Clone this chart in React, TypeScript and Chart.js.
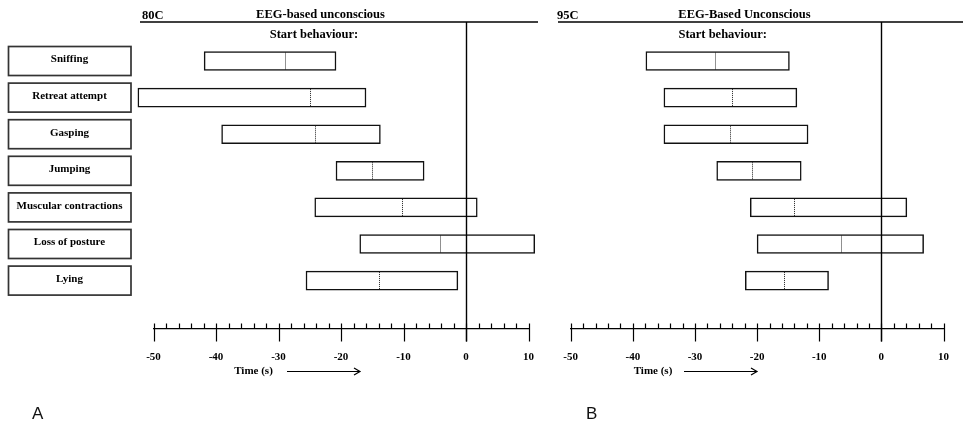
import React, { useEffect, useRef } from "react";
import { Chart, registerables } from "chart.js";

Chart.register(...registerables);

// ---------- data ----------
const behaviours = [
  "Sniffing",
  "Retreat attempt",
  "Gasping",
  "Jumping",
  "Muscular contractions",
  "Loss of posture",
  "Lying",
];

// Panel A (80C): start / end of each behaviour range and its median (s)
const startsA = [-41.9, -52.5, -39.1, -20.8, -24.2, -17.0, -25.6];
const endsA = [-20.8, -16.0, -13.7, -6.7, 1.8, 11.0, -1.3];
const mediansA = [-29.0, -24.9, -24.2, -15.0, -10.3, -4.1, -14.0];

// Panel B (95C)
const startsB = [-37.9, -35.0, -35.0, -26.5, -21.1, -20.0, -21.9];
const endsB = [-14.8, -13.6, -11.8, -12.9, 4.1, 6.8, -8.5];
const mediansB = [-26.8, -24.1, -24.3, -20.9, -14.0, -6.5, -15.7];

const xMin = -50;
const xMax = 10;
const minorStep = 2;
const majorStep = 10;

type PanelCfg = {
  left: number;
  width: number;
  starts: number[];
  ends: number[];
  medians: number[];
  tag: string;
  title: string;
  subtitle: string;
  letter: string;
  padLeft: number;
  padRight: number;
  tagX: number;
  titleX: number;
  subX: number;
  lineX0: number;
  lineX1: number;
  timeX: number;
  arrowX0: number;
  arrowX1: number;
  letterX: number;
  showBoxes: boolean;
};

const SERIF = "'Liberation Serif', 'Times New Roman', serif";

function makeDecor(cfg: PanelCfg) {
  return {
    id: "decor",
    afterDraw(chart: any) {
      const ctx: CanvasRenderingContext2D = chart.ctx;
      const xs = chart.scales.x;
      const ys = chart.scales.y;
      const area = chart.chartArea;
      const axisY = area.bottom;
      ctx.save();

      // top rule
      ctx.strokeStyle = "#000";
      ctx.lineWidth = 1.3;
      ctx.beginPath();
      ctx.moveTo(cfg.lineX0, 22);
      ctx.lineTo(cfg.lineX1, 22);
      ctx.stroke();

      // titles
      ctx.fillStyle = "#000";
      ctx.font = `bold 12.5px ${SERIF}`;
      ctx.textBaseline = "middle";
      ctx.textAlign = "left";
      ctx.fillText(cfg.tag, cfg.tagX, 15.5);
      ctx.textAlign = "center";
      ctx.fillText(cfg.title, cfg.titleX, 14.5);
      ctx.fillText(cfg.subtitle, cfg.subX, 35);

      // behaviour boxes
      if (cfg.showBoxes) {
        behaviours.forEach((name, i) => {
          const cy = ys.getPixelForValue(i);
          ctx.fillStyle = "#fff";
          ctx.strokeStyle = "#333";
          ctx.lineWidth = 1.7;
          ctx.fillRect(8.5, cy - 14.5, 122.5, 29);
          ctx.strokeRect(8.5, cy - 14.5, 122.5, 29);
          ctx.fillStyle = "#000";
          ctx.font = `bold 11px ${SERIF}`;
          ctx.textAlign = "center";
          ctx.textBaseline = "middle";
          ctx.fillText(name, 69.5, cy - 1.5);
        });
      }

      // medians (dotted)
      ctx.strokeStyle = "#222";
      ctx.lineWidth = 1;
      ctx.setLineDash([1, 1]);
      cfg.medians.forEach((m, i) => {
        const px = Math.round(xs.getPixelForValue(m)) + 0.5;
        const cy = ys.getPixelForValue(i);
        ctx.beginPath();
        ctx.moveTo(px, cy - 8.5);
        ctx.lineTo(px, cy + 8.5);
        ctx.stroke();
      });
      ctx.setLineDash([]);

      // axis tick marks
      ctx.strokeStyle = "#000";
      ctx.lineWidth = 1.2;
      xs.ticks.forEach((t: any) => {
        const px = Math.round(xs.getPixelForValue(t.value)) + 0.5;
        const major = Math.round(t.value) % majorStep === 0;
        ctx.beginPath();
        ctx.moveTo(px, axisY - 5);
        ctx.lineTo(px, major ? axisY + 13 : axisY);
        ctx.stroke();
      });

      // zero line
      const zx = Math.round(xs.getPixelForValue(0)) + 0.5;
      ctx.lineWidth = 1.4;
      ctx.beginPath();
      ctx.moveTo(zx, 22);
      ctx.lineTo(zx, axisY + 13);
      ctx.stroke();

      // time label + arrow
      ctx.fillStyle = "#000";
      ctx.font = `bold 11px ${SERIF}`;
      ctx.textAlign = "center";
      ctx.textBaseline = "middle";
      ctx.fillText("Time (s)", cfg.timeX, 371);
      ctx.lineWidth = 1.2;
      ctx.beginPath();
      ctx.moveTo(cfg.arrowX0, 371.5);
      ctx.lineTo(cfg.arrowX1, 371.5);
      ctx.moveTo(cfg.arrowX1 - 6, 368);
      ctx.lineTo(cfg.arrowX1, 371.5);
      ctx.lineTo(cfg.arrowX1 - 6, 375);
      ctx.stroke();

      // panel letter
      ctx.font = "17px 'Liberation Sans', Arial, sans-serif";
      ctx.textAlign = "left";
      ctx.textBaseline = "alphabetic";
      ctx.fillStyle = "#111";
      ctx.fillText(cfg.letter, cfg.letterX, 418.5);

      ctx.restore();
    },
  };
}

function Panel({ cfg }: { cfg: PanelCfg }) {
  const ref = useRef<HTMLCanvasElement | null>(null);
  useEffect(() => {
    if (!ref.current) return;
    const chart = new Chart(ref.current, {
      type: "bar",
      data: {
        labels: behaviours,
        datasets: [
          {
            data: behaviours.map((_, i) => ({ y: i, x: [cfg.starts[i], cfg.ends[i]] })) as any,
            backgroundColor: "#fff",
            borderColor: "#111",
            borderWidth: 1.5,
            borderSkipped: false,
            barThickness: 19,
            clip: false as any,
          },
        ],
      },
      options: {
        indexAxis: "y",
        responsive: false,
        animation: false,
        layout: {
          padding: { left: cfg.padLeft, right: cfg.padRight, top: 22, bottom: 56.5 },
        },
        plugins: {
          legend: { display: false },
          tooltip: { enabled: false },
        },
        scales: {
          x: {
            type: "linear",
            min: xMin,
            max: xMax,
            grid: { display: false },
            border: { display: true, color: "#000", width: 1.2 },
            ticks: {
              stepSize: minorStep,
              autoSkip: false,
              maxRotation: 0,
              padding: 14,
              color: "#000",
              font: { family: SERIF, weight: "bold", size: 11 },
              callback: (v: any) => (Math.round(Number(v)) % majorStep === 0 ? String(v) : ""),
            },
            afterFit: (s: any) => {
              s.height = 40;
            },
          },
          y: {
            type: "linear",
            display: false,
            reverse: true,
            offset: false,
            grid: { offset: false },
            min: -1.066,
            max: 7.309,
          },
        },
      },
      plugins: [makeDecor(cfg)],
    });
    return () => chart.destroy();
  }, [cfg]);
  return (
    <canvas
      ref={ref}
      width={cfg.width}
      height={425}
      style={{ position: "absolute", left: cfg.left, top: 0, width: cfg.width, height: 425 }}
    />
  );
}

const panelA: PanelCfg = {
  left: 0,
  width: 548,
  starts: startsA,
  ends: endsA,
  medians: mediansA,
  tag: "80C",
  title: "EEG-based unconscious",
  subtitle: "Start behaviour:",
  letter: "A",
  padLeft: 153.5,
  padRight: 10,
  tagX: 142,
  titleX: 320.5,
  subX: 314,
  lineX0: 140,
  lineX1: 538,
  timeX: 253.5,
  arrowX0: 287,
  arrowX1: 360,
  letterX: 32,
  showBoxes: true,
};

const panelB: PanelCfg = {
  left: 548,
  width: 415,
  starts: startsB,
  ends: endsB,
  medians: mediansB,
  tag: "95C",
  title: "EEG-Based Unconscious",
  subtitle: "Start behaviour:",
  letter: "B",
  padLeft: 22.7,
  padRight: 8.7,
  tagX: 9,
  titleX: 196.5,
  subX: 174.7,
  lineX0: 10,
  lineX1: 415,
  timeX: 105,
  arrowX0: 136,
  arrowX1: 209,
  letterX: 38,
  showBoxes: false,
};

export default function App() {
  return (
    <div style={{ position: "absolute", left: 0, top: 0, width: 963, height: 425, background: "#fff", overflow: "hidden" }}>
      <Panel cfg={panelA} />
      <Panel cfg={panelB} />
    </div>
  );
}
